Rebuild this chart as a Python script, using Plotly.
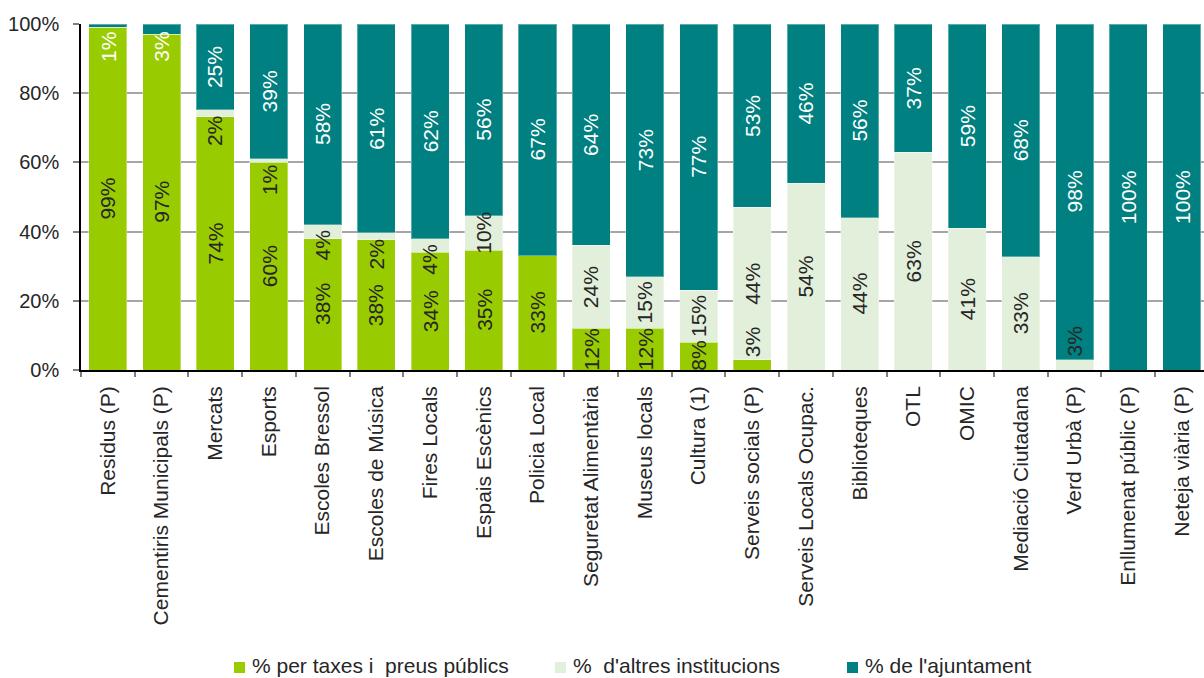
import plotly.graph_objects as go

# Funding shares per municipal service (%), stacked to 100%
categories = [
    "Residus (P)", "Cementiris Municipals (P)", "Mercats", "Esports",
    "Escoles Bressol", "Escoles de Música", "Fires Locals", "Espais Escènics",
    "Policia Local", "Seguretat Alimentària", "Museus locals", "Cultura (1)",
    "Serveis socials (P)", "Serveis Locals Ocupac.", "Biblioteques", "OTL",
    "OMIC", "Mediació Ciutadana", "Verd Urbà (P)", "Enllumenat públic (P)",
    "Neteja viària (P)",
]
taxes = [99, 97, 74, 60, 38, 38, 34, 35, 33, 12, 12, 8, 3, 0, 0, 0, 0, 0, 0, 0, 0]
altres = [0, 0, 2, 1, 4, 2, 4, 10, 0, 24, 15, 15, 44, 54, 44, 63, 41, 33, 3, 0, 0]
ajuntament = [1, 3, 25, 39, 58, 61, 62, 56, 67, 64, 73, 77, 53, 46, 56, 37, 59, 68, 98, 100, 100]

series_names = ["% per taxes i\u00a0 preus públics", "%\u00a0 d'altres institucions", "% de l'ajuntament"]
series_values = [taxes, altres, ajuntament]
series_colors = ["#99CC00", "#E2EFDA", "#008080"]
label_colors = ["#262626", "#262626", "#FFFFFF"]

FONT = "Liberation Sans, Arial, sans-serif"
W, H = 1204, 678
ML, MR, MT, MB = 81, 0, 24, 308
PLOT_W = W - ML - MR
PLOT_H = H - MT - MB
PX_PER_PCT = PLOT_H / 100.0
X_MAX = 20.41
LABEL_SIZE = 21

fig = go.Figure()
for name, vals, col in zip(series_names, series_values, series_colors):
    fig.add_trace(go.Bar(
        x=categories, y=vals, name=name,
        marker=dict(color=col, line=dict(color="rgba(255,255,255,0.35)", width=1)),
        showlegend=False,
    ))


def text_len_px(txt, size):
    widths = {"%": 0.889}
    return sum(widths.get(ch, 0.556) for ch in txt) * size


# Value labels, rotated, placed inside each stacked segment
annotations = []
for i, cat in enumerate(categories):
    total = sum(v[i] for v in series_values)
    lo = 0.0
    for s, vals in enumerate(series_values):
        v = vals[i]
        hi = lo + v * 100.0 / total
        if v > 0:
            txt = f"{v}%"
            L = text_len_px(txt, LABEL_SIZE)
            seg_px = (hi - lo) * PX_PER_PCT
            if L <= seg_px + 8:
                yc = (lo + hi) / 2
            elif hi >= 99.99:
                yc = 100 - (8 + L / 2) / PX_PER_PCT
            elif lo <= 0.01:
                yc = (13 + L / 2) / PX_PER_PCT
            else:
                yc = hi - (6 + L / 2) / PX_PER_PCT
            annotations.append(dict(
                x=cat, y=yc, xref="x", yref="y", text=txt, showarrow=False,
                textangle=-90, xanchor="center", yanchor="middle",
                font=dict(family=FONT, size=LABEL_SIZE, color=label_colors[s]),
            ))
        lo = hi


def px_to_paper_x(px):
    return (px - ML) / PLOT_W


def px_to_paper_y(py):
    return (H - MB - py) / PLOT_H


# Legend row below the category labels
legend_x = [234, 555, 847]
shapes = []
for name, col, lx in zip(series_names, series_colors, legend_x):
    shapes.append(dict(
        type="rect", xref="paper", yref="paper",
        x0=px_to_paper_x(lx), x1=px_to_paper_x(lx + 11),
        y0=px_to_paper_y(673), y1=px_to_paper_y(662),
        fillcolor=col, line=dict(width=0),
    ))
    annotations.append(dict(
        x=px_to_paper_x(lx + 16), y=px_to_paper_y(665), xref="paper", yref="paper",
        text=name, showarrow=False, xanchor="left", yanchor="middle",
        font=dict(family=FONT, size=21, color="#262626"),
    ))

fig.update_layout(
    barmode="stack", barnorm="percent", bargap=0.292,
    width=W, height=H, autosize=False,
    margin=dict(l=ML, r=MR, t=MT, b=MB, pad=0),
    paper_bgcolor="white", plot_bgcolor="white",
    font=dict(family=FONT, color="#262626"),
    annotations=annotations, shapes=shapes,
    xaxis=dict(
        type="category", range=[-0.5, X_MAX],
        showline=True, linecolor="#000000", linewidth=1.5,
        ticks="outside", tickson="boundaries", ticklen=5, tickwidth=1.5, tickcolor="#808080",
        tickangle=-90, tickfont=dict(family=FONT, size=21, color="#262626"),
        ticklabelstandoff=6, showgrid=False,
    ),
    yaxis=dict(
        range=[0, 100], tickvals=[0, 20, 40, 60, 80, 100],
        ticktext=["0%", "20%", "40%", "60%", "80%", "100%"],
        showline=True, linecolor="#000000", linewidth=1.5,
        ticks="outside", ticklen=6, tickwidth=1.5, tickcolor="#808080",
        tickfont=dict(family=FONT, size=20, color="#262626"),
        ticklabelstandoff=10,
        showgrid=True, gridcolor="#A6A6A6", gridwidth=1.5, zeroline=False,
    ),
)

fig.write_html("out.html")
